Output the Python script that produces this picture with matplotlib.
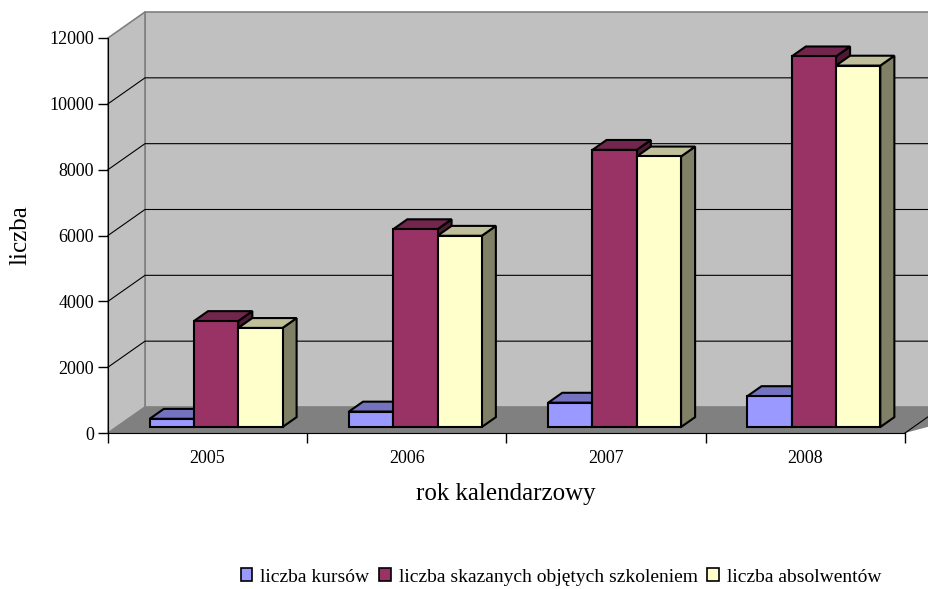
import numpy as np
import matplotlib
matplotlib.use("Agg")
import matplotlib.pyplot as plt
from matplotlib.patches import Polygon, Patch

# data
years = ["2005", "2006", "2007", "2008"]
kursy = [250, 470, 740, 940]
skazani = [3220, 6010, 8420, 11260]
absolwenci = [3010, 5810, 8220, 10980]
series_names = ["liczba kursów", "liczba skazanych objętych szkoleniem", "liczba absolwentów"]
yticks = [0, 2000, 4000, 6000, 8000, 10000, 12000]

front_colors = ["#9999FF", "#993366", "#FFFFCC"]


def shade(c, f):
    r, g, b = matplotlib.colors.to_rgb(c)
    return (r * f, g * f, b * f)


plt.rcParams["font.family"] = ["Liberation Serif", "DejaVu Serif"]

fig = plt.figure(figsize=(9.29, 5.89), dpi=100)
ax = fig.add_axes([108 / 929, 156 / 589, 797 / 929, 395 / 589])
ax.set_xlim(-0.5, 3.5)
ax.set_ylim(0, 12000)
ax.patch.set_visible(False)

# depth of the "3D" box in data units
DX = 0.1857
DY = 790.0


def P(x, y, z):
    return (x + z * DX, y + z * DY)


ymax = yticks[-1]
xr = 3.5 + 0.3  # back wall runs off the right edge

# walls and floor
back = Polygon([P(-0.5, 0, 1), P(xr, 0, 1), P(xr, ymax, 1), P(-0.5, ymax, 1)],
               facecolor="#C0C0C0", edgecolor="#808080", lw=1.2, clip_on=False, zorder=0)
side = Polygon([P(-0.5, 0, 0), P(-0.5, 0, 1), P(-0.5, ymax, 1), P(-0.5, ymax, 0)],
               facecolor="#C0C0C0", edgecolor="#808080", lw=1.2, clip_on=False, zorder=0)
floor = Polygon([P(-0.5, 0, 0), P(3.5, 0, 0), P(xr, 0, 1), P(-0.5, 0, 1)],
                facecolor="#808080", edgecolor="none", clip_on=False, zorder=0.5)
ax.add_patch(back)
ax.add_patch(side)
ax.add_patch(floor)
ax.plot(*zip(P(3.5, 0, 0), P(3.5, 0, 1)), color="black", lw=0.8, clip_on=False, zorder=0.6)

for t in yticks[1:-1]:
    ax.plot(*zip(P(-0.5, t, 0), P(-0.5, t, 1), P(xr, t, 1)), color="black", lw=0.8,
            clip_on=False, zorder=1)

# bars: side, top, then front, left to right
w = 1 / 4.5
z0, z1 = 0.23, 0.61
data = [kursy, skazani, absolwenci]
for i in range(len(years)):
    for j, vals in enumerate(data):
        h = vals[i]
        xl = i - 1.5 * w + j * w
        xrb = xl + w
        c = front_colors[j]
        ax.add_patch(Polygon([P(xrb, 0, z0), P(xrb, h, z0), P(xrb, h, z1), P(xrb, 0, z1)],
                             facecolor=shade(c, 0.5), edgecolor="black", lw=1.5,
                             joinstyle="miter", clip_on=False, zorder=2))
        ax.add_patch(Polygon([P(xl, h, z0), P(xrb, h, z0), P(xrb, h, z1), P(xl, h, z1)],
                             facecolor=shade(c, 0.75), edgecolor="black", lw=1.5,
                             joinstyle="miter", clip_on=False, zorder=2))
        ax.bar(xl + z0 * DX, h, width=w, bottom=z0 * DY, align="edge",
               color=c, edgecolor="black", lw=1.5, clip_on=False, zorder=2)

# axes
for s in ["top", "right"]:
    ax.spines[s].set_visible(False)
ax.spines["left"].set_zorder(3)
ax.spines["bottom"].set_zorder(3)
ax.set_yticks(yticks)
ax.tick_params(axis="y", direction="out", length=7, width=1, labelsize=13, pad=3)
ax.set_xticks(range(len(years)))
ax.set_xticklabels(years)
ax.set_xticks(np.arange(-0.5, 4, 1), minor=True)
ax.tick_params(axis="x", which="major", length=0, labelsize=13, pad=12)
ax.tick_params(axis="x", which="minor", direction="out", length=7, width=1)

fig.text(20 / 929, 1 - 235 / 589, "liczba", rotation=90, ha="center", va="center", fontsize=18)
fig.text(506 / 929, 1 - 494 / 589, "rok kalendarzowy", ha="center", va="center", fontsize=18)

handles = [Patch(facecolor=c, edgecolor="black", lw=1.2) for c in front_colors]
fig.legend(handles, series_names, loc="center", bbox_to_anchor=(561 / 929, 1 - 577 / 589),
           ncol=3, frameon=False, fontsize=14, handlelength=0.6, handleheight=0.6,
           handletextpad=0.4, columnspacing=0.5)

fig.savefig("out.png", dpi=100)
